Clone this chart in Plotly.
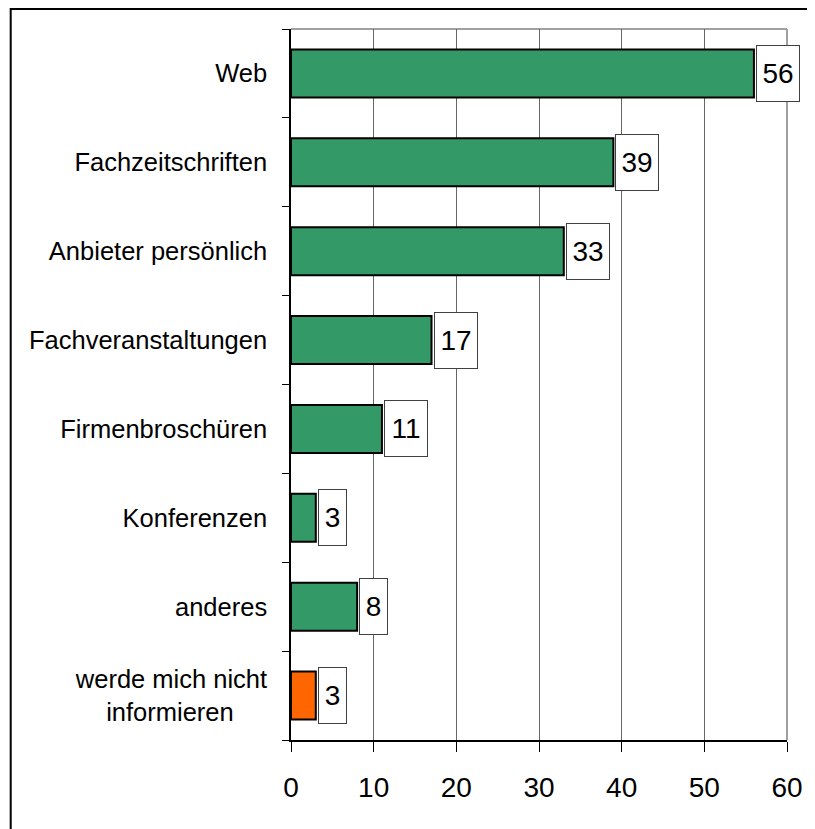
import plotly.graph_objects as go

categories = ["Web", "Fachzeitschriften", "Anbieter persönlich", "Fachveranstaltungen",
              "Firmenbroschüren", "Konferenzen", "anderes", "werde mich nicht informieren"]
tick_labels = ["Web", "Fachzeitschriften", "Anbieter persönlich", "Fachveranstaltungen",
               "Firmenbroschüren", "Konferenzen", "anderes",
               "werde mich nicht<br>informieren" + "\u00a0" * 4 + "\u2009"]
values = [56, 39, 33, 17, 11, 3, 8, 3]
colors = ["#339966"] * 7 + ["#FF6600"]
x_ticks = [0, 10, 20, 30, 40, 50, 60]

FONT = "Arial, Liberation Sans, sans-serif"

# page body has an 8px default margin, so the figure is sized/positioned to compensate
W, H = 807, 821
L, R, T, B = 283, 25, 21, 89
PW, PH = W - L - R, H - T - B

fig = go.Figure()
fig.add_trace(go.Bar(
    y=categories, x=values, orientation="h",
    marker=dict(color=colors, line=dict(color="#000000", width=2)),
    hoverinfo="skip",
))

for c, v in zip(categories, values):
    fig.add_annotation(
        x=v, y=c, xref="x", yref="y", text=str(v), showarrow=False,
        xanchor="left", yanchor="middle", xshift=2,
        font=dict(family=FONT, size=28, color="#000000"),
        bgcolor="#FFFFFF", bordercolor="#404040", borderwidth=1, borderpad=1,
        width=25 if v < 10 else 40, height=53,
    )

# plot area top/right border (gray)
fig.add_shape(type="line", xref="paper", yref="paper", x0=0, x1=1, y0=1, y1=1,
              line=dict(color="#A0A0A0", width=2), layer="below")
fig.add_shape(type="line", xref="paper", yref="paper", x0=1, x1=1, y0=0, y1=1,
              line=dict(color="#A0A0A0", width=2), layer="below")

# outer frame
fig.add_shape(type="rect", xref="paper", yref="paper",
              x0=(1 - L) / PW, x1=1.3, y0=-0.3, y1=(T + PH - 1) / PH,
              line=dict(color="#000000", width=2), fillcolor="rgba(0,0,0,0)")

fig.update_layout(
    width=W, height=H,
    margin=dict(l=L, r=R, t=T, b=B, pad=0),
    paper_bgcolor="#FFFFFF", plot_bgcolor="#FFFFFF",
    bargap=0.46, showlegend=False,
    font=dict(family=FONT, color="#000000"),
)
fig.update_xaxes(
    range=[0, 60], tickvals=x_ticks, ticktext=[str(t) for t in x_ticks],
    showgrid=True, gridcolor="#666666", gridwidth=1,
    showline=True, linecolor="#000000", linewidth=1.5,
    ticks="outside", ticklen=10, tickcolor="#000000", tickwidth=1,
    tickfont=dict(family=FONT, size=28, color="#000000"),
    ticklabelstandoff=12,
    zeroline=False, fixedrange=True,
)
fig.update_yaxes(
    categoryorder="array", categoryarray=categories, autorange="reversed",
    tickvals=categories, ticktext=tick_labels,
    showgrid=False,
    showline=True, linecolor="#000000", linewidth=1.5,
    ticks="outside", ticklen=7, tickcolor="#000000", tickwidth=1,
    tickson="boundaries",
    tickfont=dict(family=FONT, size=25.5, color="#000000"),
    ticklabelstandoff=17,
    fixedrange=True,
)

fig.write_html("out.html", config={"displayModeBar": False})
